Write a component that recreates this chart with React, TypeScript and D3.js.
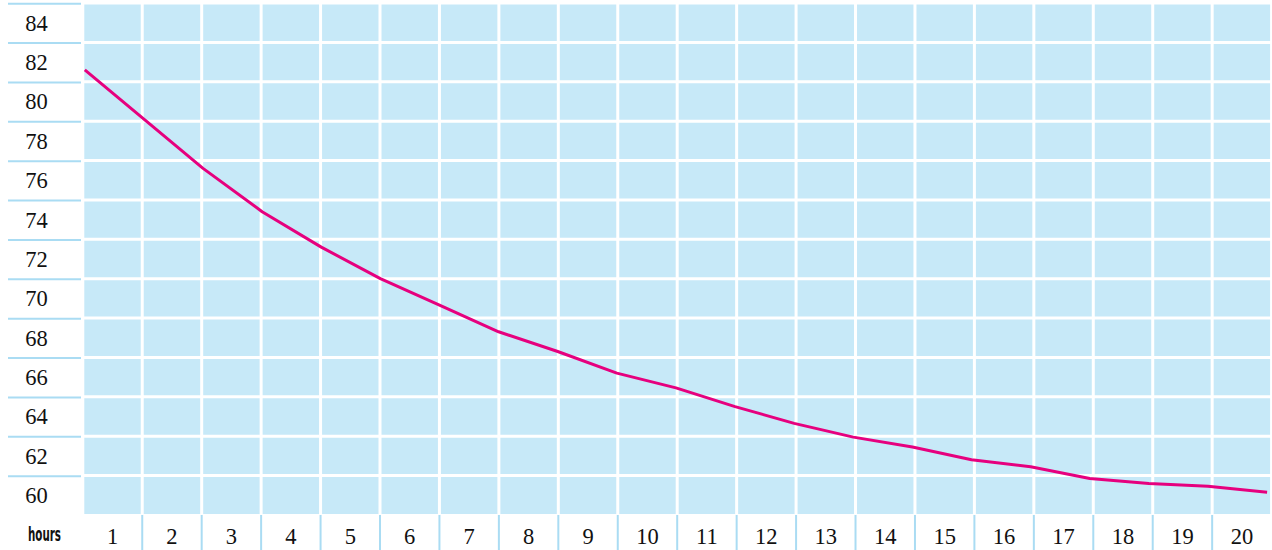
import React from 'react'
import * as d3 from 'd3'

// readings at the column boundaries, hour 0 to hour 20
const hours = [0, 1, 2, 3, 4, 5, 6, 7, 8, 9, 10, 11, 12, 13, 14, 15, 16, 17, 18, 19, 20]
const values = [81.6, 79.1, 76.6, 74.4, 72.6, 71.0, 69.65, 68.3, 67.3, 66.2, 65.45, 64.5, 63.65, 62.95, 62.45, 61.8, 61.45, 60.85, 60.6, 60.45, 60.15]
const yTicks = [84, 82, 80, 78, 76, 74, 72, 70, 68, 66, 64, 62, 60]
const xLabels = ['1', '2', '3', '4', '5', '6', '7', '8', '9', '10', '11', '12', '13', '14', '15', '16', '17', '18', '19', '20']

const width = 1272
const height = 550
const cellColor = '#c7e9f8'
const sepColor = '#aadcf3'
const lineColor = '#e6007e'

const plot = { left: 82.8, right: 1271.6, top: 3, bottom: 514 }

export default function App() {
	// grid bands: one row per y tick, one column per hour label
	const rowBand = d3.scaleBand<number>().domain(yTicks).range([plot.top, plot.bottom + 0.9])
	const colBand = d3.scaleBand<string>().domain(xLabels).range([plot.left, plot.right])
	const half = rowBand.bandwidth() / 2

	// value scale: tick values sit in the middle of their row
	const yv = d3.scaleLinear()
		.domain([84, 60])
		.range([(rowBand(84) as number) + half, (rowBand(60) as number) + half])
	const x = d3.scaleLinear().domain([0, 20]).range([plot.left + 2, plot.right - 4.5])

	const line = d3.line<number>()
		.x((d, i) => x(hours[i]))
		.y(d => yv(d))
		.curve(d3.curveLinear)

	const rowEdges = yTicks.map(t => rowBand(t) as number)
	const colEdges = xLabels.map(l => colBand(l) as number)

	return (
		<svg width={width} height={height}
			style={{ position: 'absolute', left: 0, top: 0, display: 'block' }}>
			<rect x={plot.left} y={plot.top} width={plot.right - plot.left} height={plot.bottom - plot.top} fill={cellColor} />

			{/* white grid lines */}
			<g stroke="white" strokeWidth={3}>
				{rowEdges.map((r, i) => (
					<line key={'h' + i} x1={plot.left} x2={plot.right} y1={r} y2={r} />
				))}
				{colEdges.map((c, i) => (
					<line key={'v' + i} x1={c} x2={c} y1={plot.top} y2={plot.bottom} />
				))}
				<line x1={plot.right} x2={plot.right} y1={plot.top} y2={plot.bottom} />
			</g>

			{/* y labels column */}
			<g>
				{yTicks.map((t, i) => (
					<g key={t}>
						<line x1={8} x2={81} y1={rowEdges[i] + 0.7} y2={rowEdges[i] + 0.7} stroke={sepColor} strokeWidth={2} />
						<text x={36.5} y={(rowBand(t) as number) + half + 8}
							textAnchor="middle" fontFamily="'Liberation Serif', serif" fontSize={22.5} fill="#111">
							{t}
						</text>
					</g>
				))}
			</g>

			{/* x labels row */}
			<g>
				<text x={28} y={541} fontFamily="'DejaVu Sans Condensed', 'DejaVu Sans', sans-serif" fontSize={19}
					fontWeight={600} textLength={33} lengthAdjust="spacingAndGlyphs" fill="#111">hours</text>
				{xLabels.map((l, i) => (
					<g key={l}>
						{i > 0 && (
							<line x1={colEdges[i]} x2={colEdges[i]} y1={515} y2={550} stroke={sepColor} strokeWidth={2} />
						)}
						<text x={(colBand(l) as number) + colBand.bandwidth() / 2} y={544}
							textAnchor="middle" fontFamily="'Liberation Serif', serif" fontSize={22.5} fill="#111">
							{l}
						</text>
					</g>
				))}
			</g>

			<path d={line(values) ?? ''} fill="none" stroke={lineColor} strokeWidth={3} strokeLinejoin="round" />
		</svg>
	)
}
